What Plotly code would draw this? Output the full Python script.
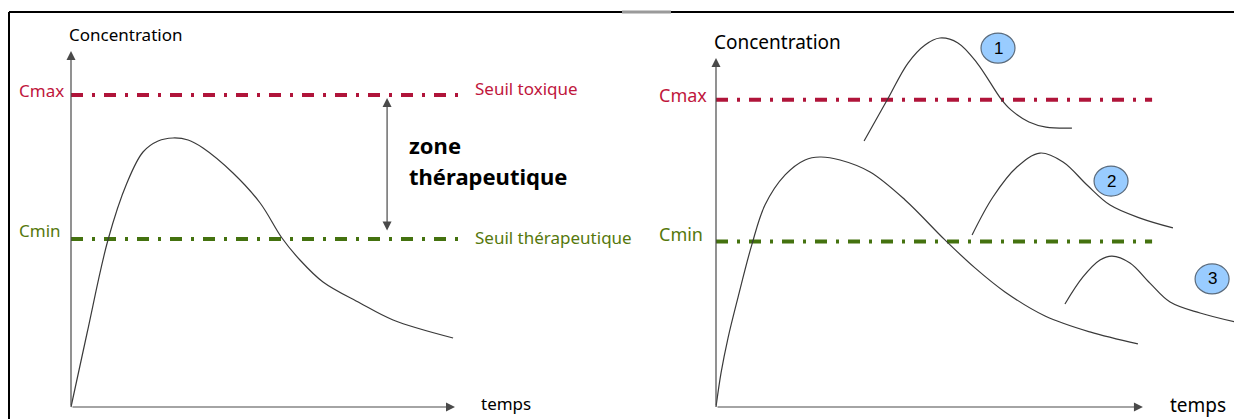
import plotly.graph_objects as go

W, H = 1242, 419
OFF = 8  # default page body margin; figure starts 8px in from the window corner

# thresholds (arbitrary concentration units)
CMAX = 15.6
CMIN = 8.4

# left panel: single dose curve (time in h, concentration)
t_left = [0, 0.67, 1.54, 2.33, 3.0, 3.63, 4.25, 4.88, 5.5, 6.75, 7.88, 8.79, 9.54, 10.5, 12.04, 13.42, 15.92]
c_left = [0, 3.7, 8.35, 11.2, 12.75, 13.3, 13.45, 13.35, 12.95, 11.7, 10.2, 8.45, 7.35, 6.25, 5.2, 4.35, 3.45]

# right panel: reference curve + three dosing scenarios
t_ref = [0, 0.21, 0.5, 0.92, 1.5, 2.04, 2.88, 3.71, 4.33, 5.17, 6.42, 7.88, 9.54, 10.79, 12.04, 13.71, 15.58, 17.58]
c_ref = [0, 1.73, 3.5, 5.58, 8.27, 10.25, 11.78, 12.54, 12.69, 12.54, 11.93, 10.51, 8.48, 7.06, 5.84, 4.62, 3.81, 3.2]

t_dose1 = [6.17, 7.13, 8.0, 8.71, 9.33, 10.08, 10.88, 11.88, 12.29, 13.04, 13.75, 14.83]
c_dose1 = [13.5, 15.58, 17.46, 18.38, 18.73, 18.48, 17.46, 15.63, 15.08, 14.47, 14.21, 14.16]

t_dose2 = [10.67, 11.54, 12.54, 13.5, 14.46, 15.46, 16.42, 17.67, 19.04]
c_dose2 = [8.73, 10.66, 12.18, 12.89, 12.44, 11.27, 10.25, 9.59, 9.09]

t_dose3 = [14.54, 15.29, 16.0, 16.5, 17.25, 18.08, 18.92, 20.17, 21.83]
c_dose3 = [5.23, 6.6, 7.46, 7.66, 7.31, 6.29, 5.33, 4.77, 4.26]

bubble_labels = ["1", "2", "3"]
bubble_t = [11.75, 16.46, 20.67]
bubble_c = [18.22, 11.47, 6.5]

RED_LINE = "#B0143A"
RED_TXT = "#C0163C"
GREEN_LINE = "#44720F"
GREEN_TXT = "#55780C"
CURVE = "#3a3a3a"
AXIS = "#4a4a4a"
FONT = "Noto Sans"
DASH = "12px,9px,3px,9px"

FW, FH = W - OFF, H - OFF  # figure size that fills the rest of the window


def panel(px0, px1, ox, oy, sx, sy):
    # page-pixel extents of a panel -> axis domain and ranges
    dom = [(px0 - OFF) / FW, (px1 - OFF) / FW]
    xr = [(px0 - ox) / sx, (px1 - ox) / sx]
    yr = [(oy - H) / sy, (oy - OFF) / sy]
    return dom, xr, yr


dom1, xr1, yr1 = panel(OFF, 620, 71, 407, 24, 20)
dom2, xr2, yr2 = panel(620, W, 716, 407, 24, 19.7)

fig = go.Figure()

# threshold lines
for xa, ya, t_end in [("x", "y", 16.3), ("x2", "y2", 18.17)]:
    fig.add_trace(go.Scatter(x=[0, t_end], y=[CMAX, CMAX], mode="lines", xaxis=xa, yaxis=ya,
                             line=dict(color=RED_LINE, width=4, dash=DASH), hoverinfo="skip"))
    fig.add_trace(go.Scatter(x=[0, t_end], y=[CMIN, CMIN], mode="lines", xaxis=xa, yaxis=ya,
                             line=dict(color=GREEN_LINE, width=4, dash=DASH), hoverinfo="skip"))

# concentration curves
fig.add_trace(go.Scatter(x=t_left, y=c_left, mode="lines", xaxis="x", yaxis="y",
                         line=dict(color=CURVE, width=1.2, shape="spline")))
for tt, cc in [(t_ref, c_ref), (t_dose1, c_dose1), (t_dose2, c_dose2), (t_dose3, c_dose3)]:
    fig.add_trace(go.Scatter(x=tt, y=cc, mode="lines", xaxis="x2", yaxis="y2",
                             line=dict(color=CURVE, width=1.2, shape="spline")))

ann = []


def arrow(xref, yref, x, y, ax, ay, both=False):
    ann.append(dict(xref=xref, yref=yref, axref=xref, ayref=yref, x=x, y=y, ax=ax, ay=ay,
                    text="", showarrow=True, arrowhead=2, arrowsize=1.5, arrowwidth=1.2,
                    arrowcolor=AXIS, arrowside="end+start" if both else "end"))


def label(xref, yref, x, y, text, color="black", size=17, bold=False, family=FONT):
    ann.append(dict(xref=xref, yref=yref, x=x, y=y, text=f"<b>{text}</b>" if bold else text,
                    showarrow=False, xanchor="left", yanchor="middle",
                    font=dict(family=family, size=size, color=color)))


# left panel axes and labels
arrow("x", "y", 0, 17.8, 0, 0)
arrow("x", "y", 16.0, 0, 0, 0)
arrow("x", "y", 13.17, 15.45, 13.17, 8.75, both=True)
label("x", "y", -0.17, 18.65, "Concentration")
label("x", "y", -2.25, 15.85, "Cmax", RED_TXT)
label("x", "y", -2.25, 8.83, "Cmin", GREEN_TXT)
label("x", "y", 16.75, 15.95, "Seuil toxique", RED_TXT)
label("x", "y", 16.75, 8.5, "Seuil thérapeutique", GREEN_TXT)
label("x", "y", 14.0, 13.1, "zone", size=22, bold=True)
label("x", "y", 14.0, 11.55, "thérapeutique", size=22, bold=True)
label("x", "y", 17.0, 0.2, "temps")

# right panel axes and labels
arrow("x2", "y2", 0, 17.72, 0, 0)
arrow("x2", "y2", 17.79, 0, 0, 0)
label("x2", "y2", -0.17, 18.53, "Concentration", size=19)
label("x2", "y2", -2.46, 15.84, "Cmax", RED_TXT, size=18)
label("x2", "y2", -2.46, 8.78, "Cmin", GREEN_TXT, size=18)
label("x2", "y2", 18.83, 0.1, "temps", size=19)

shapes = []
for lab, bt, bc in zip(bubble_labels, bubble_t, bubble_c):
    shapes.append(dict(type="circle", xref="x2", yref="y2", xsizemode="pixel", ysizemode="pixel",
                       xanchor=bt, yanchor=bc, x0=-17, x1=17, y0=-15, y1=15,
                       fillcolor="#99CCFF", line=dict(color="#5b6b7c", width=1.2)))
    ann.append(dict(xref="x2", yref="y2", x=bt, y=bc, text=lab, showarrow=False,
                    font=dict(family="Liberation Sans", size=17, color="black")))

# frame (page y=12, page x=8)
ytop = 1 - (12 - OFF) / FH
xleft = 1 / FW
shapes.append(dict(type="line", xref="paper", yref="paper", x0=xleft, x1=1, y0=ytop, y1=ytop,
                   line=dict(color="black", width=2)))
shapes.append(dict(type="line", xref="paper", yref="paper", x0=xleft, x1=xleft, y0=ytop, y1=0,
                   line=dict(color="black", width=2)))
shapes.append(dict(type="line", xref="paper", yref="paper", x0=(622 - OFF) / FW, x1=(671 - OFF) / FW,
                   y0=ytop, y1=ytop, line=dict(color="#9a9a9a", width=3)))

hidden = dict(visible=False, showgrid=False, zeroline=False, fixedrange=True)
fig.update_layout(
    width=FW, height=FH,
    margin=dict(l=0, r=0, t=0, b=0),
    paper_bgcolor="white", plot_bgcolor="white",
    showlegend=False,
    xaxis=dict(domain=dom1, range=xr1, anchor="y", **hidden),
    yaxis=dict(domain=[0, 1], range=yr1, anchor="x", **hidden),
    xaxis2=dict(domain=dom2, range=xr2, anchor="y2", **hidden),
    yaxis2=dict(domain=[0, 1], range=yr2, anchor="x2", **hidden),
    annotations=ann,
    shapes=shapes,
)

fig.write_html("out.html")
